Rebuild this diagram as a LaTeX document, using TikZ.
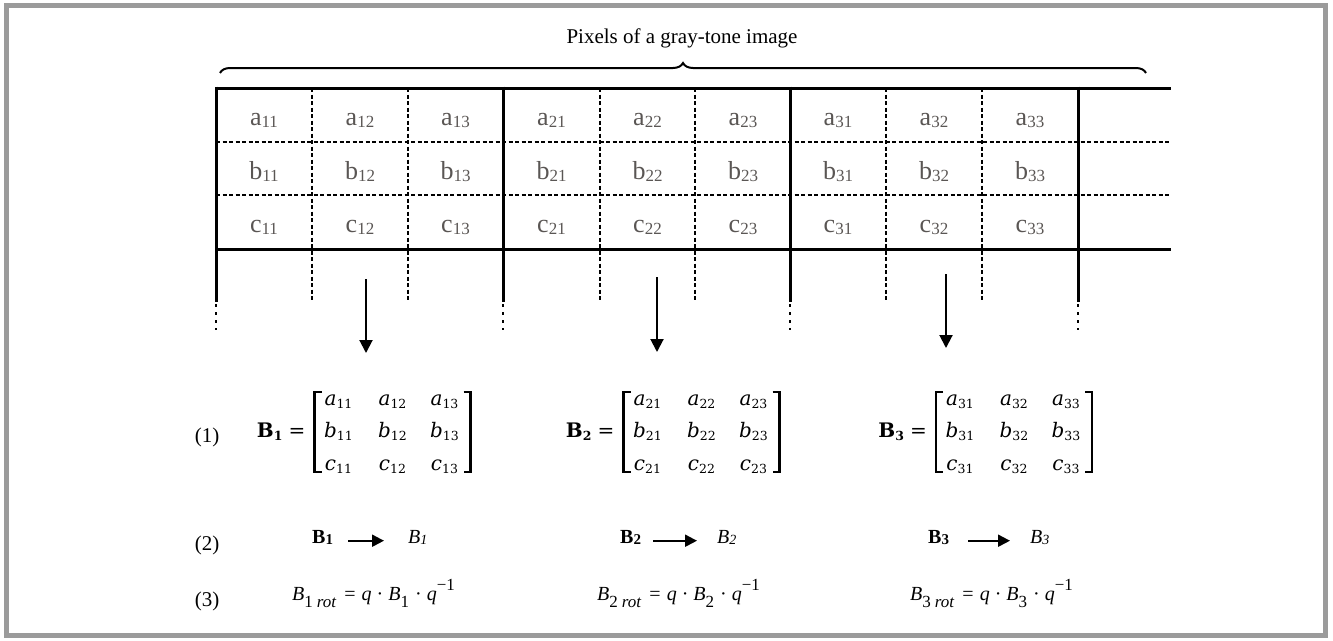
\documentclass[tikz,border=0pt]{standalone}
\usepackage{fontspec}
\setmainfont{Liberation Serif}
\newfontfamily\matfont{DejaVu Serif}
\usetikzlibrary{arrows.meta,decorations.pathreplacing}
\definecolor{framegray}{RGB}{155,155,155}
\definecolor{celltext}{RGB}{90,86,84}
\newcommand{\subf}{\fontsize{17}{17}\selectfont}
\newcommand{\cellsub}{\fontsize{17}{17}\selectfont}
\newcommand{\pcell}[2]{#1\raisebox{-2.5pt}{\cellsub #2}}
\newcommand{\ment}[2]{\textit{#1}\raisebox{-3.5pt}{\fontsize{12.5}{12.5}\selectfont #2}}
\newcommand{\rotexpr}[1]{\textit{B}\raisebox{-7pt}{\subf #1\hspace{4pt}\textit{rot}}\hspace{8pt}=\hspace{6pt}\textit{q}\hspace{5pt}·\hspace{5pt}\textit{B}\raisebox{-7pt}{\subf #1}\hspace{6pt}·\hspace{5pt}\textit{q}\raisebox{10pt}{\subf −1}}
\begin{document}
\begin{tikzpicture}[x=1pt,y=-1pt,
  thickrule/.style={line width=3pt},
  thinrule/.style={line width=1.2pt, dash pattern=on 4pt off 2.5pt},
  dotrule/.style={line width=2.5pt, dash pattern=on 3pt off 5pt},
  celltxt/.style={inner sep=0pt, anchor=base, text=celltext, font=\fontsize{26}{30}\selectfont},
  mathent/.style={inner sep=0pt, font=\matfont\fontsize{20}{24}\selectfont},
  bracket/.style={line width=2.5pt},
  downarrow/.style={line width=2pt, -{Triangle[length=13pt,width=13pt]}},
  rowarrow/.style={line width=2pt, -{Triangle[length=12pt,width=12pt]}},
  lbl/.style={inner sep=0pt, anchor=base, font=\fontsize{21}{25}\selectfont},
  eqtxt/.style={inner sep=0pt, anchor=base west, font=\fontsize{20}{24}\selectfont},
  bracestyle/.style={line width=2pt, decorate, decoration={brace, amplitude=10pt}}
]
\useasboundingbox (0,0) rectangle (1333,640);
\draw[framegray, line width=5pt] (6,5.5) rectangle (1325,635.5);

% title and brace
\node[inner sep=0pt, font=\fontsize{21}{25}\selectfont] (title) at (682,38) {Pixels of a gray-tone image};
\coordinate (brL) at (220,73);
\coordinate (brR) at (1146,73);
\draw[bracestyle] (brL) -- (brR);

% table grid
\draw[thickrule] (216,88) -- (1171,88);
\draw[thickrule] (216,249) -- (1171,249);
\draw[thinrule] (216,142) -- (1171,142);
\draw[thinrule] (216,195) -- (1171,195);
\foreach \x in {216,503,790,1078} {
  \draw[thickrule] (\x,86.5) -- (\x,302);
  \draw[dotrule] (\x,304) -- (\x,330);
}
\foreach \x in {312,408,600,695,886,982} {
  \draw[thinrule] (\x,88) -- (\x,302);
}

% cell contents
\foreach \k/\xa/\xb/\xc in {1/264/360/455.5, 2/551.5/647.5/743, 3/838/934/1030} {
  \foreach \l/\y in {a/125, b/179, c/232} {
    \node[celltxt] (c\l\k1) at (\xa,\y) {\pcell{\l}{\k1}};
    \node[celltxt] (c\l\k2) at (\xb,\y) {\pcell{\l}{\k2}};
    \node[celltxt] (c\l\k3) at (\xc,\y) {\pcell{\l}{\k3}};
  }
}

% vertical arrows
\coordinate (va1s) at (366,279); \coordinate (va1e) at (366,353);
\coordinate (va2s) at (657,277); \coordinate (va2e) at (657,352);
\coordinate (va3s) at (946,274); \coordinate (va3e) at (946,348);
\draw[downarrow] (va1s) -- (va1e);
\draw[downarrow] (va2s) -- (va2e);
\draw[downarrow] (va3s) -- (va3e);

% row labels
\node[lbl] (n1) at (207,442) {(1)};
\node[lbl] (n2) at (207,550) {(2)};
\node[lbl] (n3) at (207,606) {(3)};

% matrices
\foreach \k/\cx in {1/392.5, 2/701.5, 3/1014} {
  \foreach \r/\l/\y in {1/a/405, 2/b/437, 3/c/470} {
    \foreach \c/\dx in {1/-54, 2/0, 3/52} {
      \node[mathent, anchor=base] (m\k\r\c) at (\cx+\dx,\y) {\ment{\l}{\k\c}};
    }
  }
  \draw[bracket] (\cx-71,392) -- (\cx-78,392) -- (\cx-78,472) -- (\cx-71,472);
  \draw[bracket] (\cx+71,392) -- (\cx+78,392) -- (\cx+78,472) -- (\cx+71,472);
  \node[mathent, anchor=base east] (eq\k) at (\cx-87,437) {\textbf{B}\raisebox{-3.5pt}{\fontsize{12.5}{12.5}\selectfont\bfseries \k}\hspace{6pt}=};
}

% row (2)
\foreach \k/\xa/\xb in {1/312/408, 2/620/717, 3/928/1030} {
  \node[eqtxt] (bb\k) at (\xa,543) {\textbf{B}\raisebox{-1.5pt}{\fontsize{15}{15}\selectfont\bfseries \k}};
  \node[eqtxt] (bi\k) at (\xb,543) {\textit{B}\raisebox{-1.5pt}{\fontsize{14}{14}\selectfont\itshape \k}};
}
\draw[rowarrow, shorten <=15pt, shorten >=24pt] (bb1.mid east) -- (bi1.mid west);
\draw[rowarrow, shorten <=12pt, shorten >=20pt] (bb2.mid east) -- (bi2.mid west);
\draw[rowarrow, shorten <=19pt, shorten >=20pt] (bb3.mid east) -- (bi3.mid west);

% row (3)
\node[eqtxt] (r1) at (292,600) {\rotexpr{1}};
\node[eqtxt] (r2) at (597,600) {\rotexpr{2}};
\node[eqtxt] (r3) at (910,600) {\rotexpr{3}};
\end{tikzpicture}
\end{document}
